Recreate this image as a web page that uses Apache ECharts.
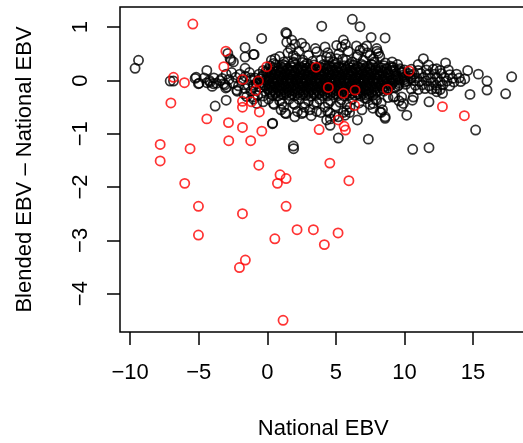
<!DOCTYPE html>
<html><head><meta charset="utf-8">
<script src="https://cdn.jsdelivr.net/npm/echarts@6/dist/echarts.min.js"></script>
<style>html,body{margin:0;padding:0;background:#fff}#c{width:523px;height:443px}</style>
</head><body><div id="c"></div>
<script>
const xTicks = [-10, -5, 0, 5, 10, 15];
const yTicks = [-4, -3, -2, -1, 0, 1];
const xTitle = 'National EBV';
const yTitle = 'Blended EBV \u2013 National EBV';

const blackOutliers = [
[-9.64,0.23],[-9.39,0.38],[-7.08,-0.01],[-6.84,-0.01],
[17.82,0.07],[17.38,-0.25],[16.02,-0.01],[16.02,-0.18],[15.39,0.12],[14.78,-0.26],[15.19,-0.93],[14.61,0.19],
[11.79,-1.26],[10.6,-1.29],[7.37,-1.10],[5.18,-1.08],[1.9,-1.23],[1.92,-1.28],[0.37,-0.81],[-3.8,-0.48],[-3.0,-0.37],
[6.2,1.15],[6.76,1.01],[3.97,1.02],[-0.41,0.79],[1.35,0.90],[8.59,0.80],[7.57,0.81],
[-1.62,0.62],[-1.62,0.44],[-1.01,0.49],[-2.88,0.51],[-2.64,0.38],[-4.41,0.19],[-5.26,0.04],[-4.97,-0.05],[-4.17,-0.03],[-4.02,-0.11],[-3.44,0.0],[-3.03,-0.14],[-1.62,0.23],
[8.59,-0.71],[8.3,-0.6],[10.17,-0.65],[9.8,-0.48],[10.58,-0.37],[11.79,-0.40],[11.38,0.41],[11.0,0.3],[13.0,0.33],[6.57,-0.74],[4.58,-0.84],[1.37,-0.62],[2.51,-0.62],[3.2,-0.66],[4.6,-0.72],
[1.42,0.88],[1.42,0.72],[1.78,0.76],[2.75,0.63],[3.6,0.54],[4.21,0.63],[5.06,0.66],[5.55,0.76],[-0.96,0.49],[0.57,0.41],[1.9,0.47],[4.32,0.44],[5.06,0.41],[0.45,0.32],[1.15,0.3],[1.9,0.35],[2.55,0.34],[4.58,0.26],[5.79,0.38],
[5.43,0.63],[7.25,0.65],[7.98,0.6],[8.1,0.51],[6.76,0.57],[6.52,0.44],[7.49,0.47],[7.74,0.41],[11.75,0.29],[9.19,0.25],[9.68,0.22],[12.35,0.22],
[0.45,-0.43],[1.06,-0.43],[1.9,-0.43],[2.75,-0.43],[3.6,-0.41],[4.45,-0.43],[5.3,-0.41],[1.3,-0.61],[2.63,-0.6],[3.6,-0.58],[4.58,-0.61],[5.55,-0.6],[4.33,-0.74],[5.18,-0.68],[0.39,-0.8],[-1.01,-0.31],[-0.28,-0.29],[-0.77,-0.43],
[9.8,-0.31],[9.92,-0.43],[10.65,-0.31],[8.59,-0.68],[8.22,-0.59],[7.73,-0.43],[7.98,-0.37],[9.19,-0.31],[7.25,-0.34],[5.79,-0.56],[6.03,-0.5],[5.67,-0.65],[12.35,-0.21],[12.78,-0.24],[12.35,-0.15],
[-5.19,0.06],[-5.02,-0.06],[-4.22,0.0],[-3.93,-0.06],[-3.2,-0.06],[-2.71,0.41],[-2.47,0.35],[-2.95,-0.12],[-2.22,-0.18],[-1.62,-0.15],[-1.01,-0.09]
];

const blackLeftBand = [
[-4.6,0.05],[-4.4,-0.04],[-3.9,0.05],[-3.7,-0.05],[-3.3,0.04],[-3.1,-0.08],[-2.8,0.02],[-2.5,-0.05],[-2.3,0.06],[-2.1,-0.1],[-1.9,0.0],[-1.6,0.08],[-1.4,-0.08],[-1.2,0.05],[-1.0,-0.12],[-2.6,0.15],[-2.0,0.12],[-1.3,0.15],[-3.0,0.12],[-2.2,-0.2],[-1.7,-0.25],[-1.2,-0.2]
];

const blackUpper = [
[0.3,0.38],[0.9,0.45],[1.5,0.52],[1.7,0.6],[2.1,0.42],[2.3,0.55],[2.6,0.38],[3.0,0.47],[3.3,0.36],[3.5,0.6],[3.9,0.38],[4.4,0.52],[4.8,0.35],[5.2,0.5],[5.5,0.4],[5.9,0.55],[6.2,0.35],[6.6,0.48],[7.0,0.38],[7.3,0.52],[7.8,0.35],[8.2,0.45],[8.6,0.33],[9.1,0.35],[9.5,0.3],[1.2,0.35],[1.9,0.33],[2.9,0.32],[4.1,0.3],[5.0,0.32],[6.0,0.3],[6.9,0.3],[7.6,0.3],[8.0,0.55],[4.6,0.44],[2.0,0.68],[2.5,0.7],[5.7,0.68],[6.5,0.65],[7.0,0.6]
];

const blackLower = [
[-1.5,-0.3],[-1.0,-0.35],[-0.7,-0.28],[-0.3,-0.4],[0.1,-0.35],[0.5,-0.45],[0.9,-0.38],[1.2,-0.5],[1.6,-0.35],[2.0,-0.45],[2.3,-0.35],[2.7,-0.5],[3.0,-0.38],[3.4,-0.45],[3.8,-0.35],[4.2,-0.5],[4.6,-0.38],[5.0,-0.48],[5.4,-0.36],[5.8,-0.45],[6.2,-0.35],[6.7,-0.42],[7.1,-0.33],[7.5,-0.45],[7.9,-0.35],[8.3,-0.42],[8.8,-0.32],[9.3,-0.3],[9.6,-0.38],[1.0,-0.55],[2.2,-0.58],[3.1,-0.55],[3.9,-0.6],[4.4,-0.58],[6.0,-0.6],[6.9,-0.55],[7.7,-0.52],[8.4,-0.55],[2.0,-0.68],[4.9,-0.66]
];

const blackCore = [
[0.2,0.27],[0.6,0.29],[1.0,0.26],[1.3,0.28],[1.7,0.27],[2.0,0.29],[2.4,0.26],[2.7,0.28],[3.1,0.27],[3.4,0.29],[3.8,0.26],[4.2,0.28],[4.5,0.27],[4.9,0.29],[5.2,0.26],[5.6,0.28],[5.9,0.27],[6.3,0.29],[6.6,0.26],[7.0,0.28],[7.3,0.27],[7.7,0.29],[8.1,0.26],[8.5,0.28],[9.0,0.27],
[-0.3,0.19],[0.1,0.21],[0.4,0.2],[0.8,0.19],[1.1,0.21],[1.5,0.2],[1.8,0.19],[2.2,0.21],[2.5,0.2],[2.9,0.19],[3.2,0.21],[3.6,0.2],[3.9,0.19],[4.3,0.21],[4.7,0.2],[5.0,0.19],[5.4,0.21],[5.7,0.2],[6.1,0.19],[6.4,0.21],[6.8,0.2],[7.1,0.19],[7.5,0.21],[7.9,0.2],[8.3,0.19],[8.7,0.21],[9.2,0.2],[9.6,0.19],
[-0.6,0.12],[0.0,0.14],[0.3,0.13],[0.6,0.12],[1.0,0.14],[1.3,0.13],[1.7,0.12],[2.0,0.14],[2.4,0.13],[2.7,0.12],[3.1,0.14],[3.4,0.13],[3.8,0.12],[4.1,0.14],[4.5,0.13],[4.8,0.12],[5.2,0.14],[5.5,0.13],[5.9,0.12],[6.2,0.14],[6.6,0.13],[6.9,0.12],[7.3,0.14],[7.6,0.13],[8.0,0.12],[8.4,0.14],[8.8,0.13],[9.3,0.12],[9.8,0.14],[10.3,0.13],
[-0.9,0.05],[-0.4,0.07],[0.2,0.06],[0.5,0.05],[0.9,0.07],[1.2,0.06],[1.6,0.05],[1.9,0.07],[2.3,0.06],[2.6,0.05],[3.0,0.07],[3.3,0.06],[3.7,0.05],[4.0,0.07],[4.4,0.06],[4.7,0.05],[5.1,0.07],[5.4,0.06],[5.8,0.05],[6.1,0.07],[6.5,0.06],[6.8,0.05],[7.2,0.07],[7.5,0.06],[7.9,0.05],[8.2,0.07],[8.6,0.06],[9.0,0.05],[9.5,0.07],[10.0,0.06],[10.5,0.05],
[-1.2,0.01],[-0.7,-0.01],[-0.2,0.0],[0.1,0.01],[0.4,-0.01],[0.8,0.0],[1.1,0.01],[1.5,-0.01],[1.8,0.0],[2.2,0.01],[2.5,-0.01],[2.9,0.0],[3.2,0.01],[3.6,-0.01],[3.9,0.0],[4.3,0.01],[4.6,-0.01],[5.0,0.0],[5.3,0.01],[5.7,-0.01],[6.0,0.0],[6.4,0.01],[6.7,-0.01],[7.1,0.0],[7.4,0.01],[7.8,-0.01],[8.1,0.0],[8.5,0.01],[8.9,-0.01],[9.3,0.0],[9.7,0.01],[10.2,-0.01],[10.7,0.0],
[-0.8,-0.06],[-0.3,-0.08],[0.2,-0.07],[0.5,-0.06],[0.9,-0.08],[1.2,-0.07],[1.6,-0.06],[1.9,-0.08],[2.3,-0.07],[2.6,-0.06],[3.0,-0.08],[3.3,-0.07],[3.7,-0.06],[4.0,-0.08],[4.4,-0.07],[4.7,-0.06],[5.1,-0.08],[5.4,-0.07],[5.8,-0.06],[6.1,-0.08],[6.5,-0.07],[6.8,-0.06],[7.2,-0.08],[7.5,-0.07],[7.9,-0.06],[8.3,-0.08],[8.7,-0.07],[9.1,-0.06],[9.6,-0.08],[10.1,-0.07],
[-0.5,-0.13],[0.0,-0.15],[0.3,-0.14],[0.7,-0.13],[1.0,-0.15],[1.4,-0.14],[1.7,-0.13],[2.1,-0.15],[2.4,-0.14],[2.8,-0.13],[3.1,-0.15],[3.5,-0.14],[3.8,-0.13],[4.2,-0.15],[4.5,-0.14],[4.9,-0.13],[5.2,-0.15],[5.6,-0.14],[5.9,-0.13],[6.3,-0.15],[6.6,-0.14],[7.0,-0.13],[7.3,-0.15],[7.7,-0.14],[8.0,-0.13],[8.4,-0.15],[8.8,-0.14],[9.3,-0.13],
[-0.2,-0.2],[0.2,-0.22],[0.6,-0.21],[0.9,-0.2],[1.3,-0.22],[1.6,-0.21],[2.0,-0.2],[2.3,-0.22],[2.7,-0.21],[3.0,-0.2],[3.4,-0.22],[3.7,-0.21],[4.1,-0.2],[4.4,-0.22],[4.8,-0.21],[5.1,-0.2],[5.5,-0.22],[5.8,-0.21],[6.2,-0.2],[6.5,-0.22],[6.9,-0.21],[7.2,-0.2],[7.6,-0.22],[8.0,-0.21],[8.5,-0.2],
[0.4,-0.28],[0.8,-0.29],[1.2,-0.27],[1.6,-0.28],[2.0,-0.29],[2.4,-0.27],[2.8,-0.28],[3.2,-0.29],[3.6,-0.27],[4.0,-0.28],[4.4,-0.29],[4.8,-0.27],[5.2,-0.28],[5.6,-0.29],[6.0,-0.27],[6.4,-0.28],[6.8,-0.29],[7.2,-0.27],[7.7,-0.28]
];

const blackCoreInner = [
[0.4,0.24],[0.8,0.23],[1.15,0.24],[1.5,0.23],[1.85,0.24],[2.2,0.23],[2.55,0.24],[2.9,0.23],[3.25,0.24],[3.6,0.23],[4.0,0.24],[4.35,0.23],[4.7,0.24],[5.05,0.23],[5.4,0.24],[5.75,0.23],[6.1,0.24],[6.45,0.23],[6.8,0.24],[7.15,0.23],[7.5,0.24],[7.9,0.23],[8.3,0.24],[8.7,0.23],[9.1,0.24],
[-0.1,0.17],[0.25,0.16],[0.6,0.17],[0.95,0.16],[1.3,0.17],[1.65,0.16],[2.0,0.17],[2.35,0.16],[2.7,0.17],[3.05,0.16],[3.4,0.17],[3.75,0.16],[4.1,0.17],[4.45,0.16],[4.8,0.17],[5.15,0.16],[5.5,0.17],[5.85,0.16],[6.2,0.17],[6.55,0.16],[6.9,0.17],[7.25,0.16],[7.6,0.17],[8.0,0.16],[8.4,0.17],[8.8,0.16],[9.3,0.17],[9.8,0.16],
[-0.3,0.1],[0.1,0.09],[0.45,0.1],[0.8,0.09],[1.15,0.1],[1.5,0.09],[1.85,0.1],[2.2,0.09],[2.55,0.1],[2.9,0.09],[3.25,0.1],[3.6,0.09],[3.95,0.1],[4.3,0.09],[4.65,0.1],[5.0,0.09],[5.35,0.1],[5.7,0.09],[6.05,0.1],[6.4,0.09],[6.75,0.1],[7.1,0.09],[7.45,0.1],[7.8,0.09],[8.15,0.1],[8.5,0.09],[8.9,0.1],[9.4,0.09],[9.9,0.1],[10.4,0.09],
[-0.5,0.03],[0.0,0.02],[0.35,0.03],[0.7,0.02],[1.05,0.03],[1.4,0.02],[1.75,0.03],[2.1,0.02],[2.45,0.03],[2.8,0.02],[3.15,0.03],[3.5,0.02],[3.85,0.03],[4.2,0.02],[4.55,0.03],[4.9,0.02],[5.25,0.03],[5.6,0.02],[5.95,0.03],[6.3,0.02],[6.65,0.03],[7.0,0.02],[7.35,0.03],[7.7,0.02],[8.05,0.03],[8.4,0.02],[8.75,0.03],[9.15,0.02],[9.55,0.03],[10.0,0.02],[10.45,0.03],
[-0.45,-0.04],[0.05,-0.03],[0.4,-0.04],[0.75,-0.03],[1.1,-0.04],[1.45,-0.03],[1.8,-0.04],[2.15,-0.03],[2.5,-0.04],[2.85,-0.03],[3.2,-0.04],[3.55,-0.03],[3.9,-0.04],[4.25,-0.03],[4.6,-0.04],[4.95,-0.03],[5.3,-0.04],[5.65,-0.03],[6.0,-0.04],[6.35,-0.03],[6.7,-0.04],[7.05,-0.03],[7.4,-0.04],[7.75,-0.03],[8.1,-0.04],[8.45,-0.03],[8.8,-0.04],[9.2,-0.03],[9.6,-0.04],[10.0,-0.03],
[-0.2,-0.1],[0.15,-0.11],[0.5,-0.1],[0.85,-0.11],[1.2,-0.1],[1.55,-0.11],[1.9,-0.1],[2.25,-0.11],[2.6,-0.1],[2.95,-0.11],[3.3,-0.1],[3.65,-0.11],[4.0,-0.1],[4.35,-0.11],[4.7,-0.1],[5.05,-0.11],[5.4,-0.1],[5.75,-0.11],[6.1,-0.1],[6.45,-0.11],[6.8,-0.1],[7.15,-0.11],[7.5,-0.1],[7.85,-0.11],[8.2,-0.1],[8.6,-0.11],[9.0,-0.1],[9.5,-0.11],
[0.1,-0.17],[0.45,-0.18],[0.8,-0.17],[1.15,-0.18],[1.5,-0.17],[1.85,-0.18],[2.2,-0.17],[2.55,-0.18],[2.9,-0.17],[3.25,-0.18],[3.6,-0.17],[3.95,-0.18],[4.3,-0.17],[4.65,-0.18],[5.0,-0.17],[5.35,-0.18],[5.7,-0.17],[6.05,-0.18],[6.4,-0.17],[6.75,-0.18],[7.1,-0.17],[7.45,-0.18],[7.8,-0.17],[8.2,-0.18],[8.7,-0.17],
[0.2,-0.25],[0.6,-0.24],[1.0,-0.25],[1.4,-0.24],[1.8,-0.25],[2.2,-0.24],[2.6,-0.25],[3.0,-0.24],[3.4,-0.25],[3.8,-0.24],[4.2,-0.25],[4.6,-0.24],[5.0,-0.25],[5.4,-0.24],[5.8,-0.25],[6.2,-0.24],[6.6,-0.25],[7.0,-0.24],[7.4,-0.25],[7.9,-0.24]
];

const blackRightBand = [
[10.0,0.2],[10.5,0.21],[11.0,0.19],[11.6,0.2],[12.1,0.21],[12.6,0.19],[13.2,0.2],
[10.7,0.12],[11.2,0.13],[11.7,0.11],[12.2,0.12],[12.7,0.13],[13.3,0.11],[13.8,0.12],
[10.9,0.05],[11.4,0.06],[11.9,0.04],[12.4,0.05],[12.9,0.06],[13.5,0.04],[14.0,0.05],[14.4,0.03],
[11.1,-0.02],[11.6,-0.01],[12.1,-0.03],[12.6,-0.02],[13.1,-0.01],[13.6,-0.03],[14.1,-0.02],
[10.8,-0.09],[11.3,-0.08],[11.8,-0.1],[12.3,-0.09],[12.8,-0.08],[13.3,-0.1],
[10.5,-0.16],[11.0,-0.17],[11.5,-0.15],[12.0,-0.16],[12.6,-0.17]
];

const redPoints = [
[-5.43,1.06],[-3.02,0.55],[-3.17,0.26],[-6.84,0.06],[-6.04,-0.04],[-7.03,-0.42],[-0.04,0.26],[3.56,0.25],[-0.65,-0.01],[-1.79,0.02],[-0.85,-0.19],[-1.81,-0.39],[-1.81,-0.50],[-1.16,-0.40],[-0.58,-0.59],[-4.41,-0.72],[-2.83,-0.79],[-1.81,-0.88],[-0.40,-0.95],[-2.81,-1.13],[-1.21,-1.13],[-7.81,-1.20],[-5.63,-1.28],[-7.81,-1.51],[-0.62,-1.59],[4.56,-1.55],[-6.02,-1.93],[0.93,-1.77],[0.74,-1.93],[1.37,-1.84],[5.95,-1.88],[-5.02,-2.36],[1.37,-2.36],[-1.81,-2.50],[-5.02,-2.90],[0.55,-2.97],[2.17,-2.80],[3.36,-2.80],[5.16,-2.86],[4.16,-3.08],[-1.60,-3.37],[-2.03,-3.51],[1.15,-4.50],[3.78,-0.92],[5.60,-0.86],[5.7,-0.93],[6.37,-0.47],[8.75,-0.17],[12.77,-0.49],[14.37,-0.66],[10.34,0.18],[4.45,-0.13],[5.55,-0.24],[6.4,-0.18],[5.18,-0.74]
];

const blackPoints = [].concat(blackOutliers, blackLeftBand, blackUpper, blackLower, blackCore, blackCoreInner, blackRightBand);

const FONT = '"Liberation Sans", Arial, Helvetica, sans-serif';
const fmt = v => String(v).replace('-', '\u2212');
const chart = echarts.init(document.getElementById('c'), null, {renderer: 'canvas'});
const circleStyle = c => ({color: 'rgba(0,0,0,0)', borderColor: c, borderWidth: 1.75});
chart.setOption({
  animation: false,
  grid: {left: 120, top: 7, width: 406.5, height: 325, show: true, borderColor: '#000', borderWidth: 1.5, backgroundColor: 'rgba(0,0,0,0)', containLabel: false, outerBoundsMode: 'none'},
  xAxis: {
    type: 'value', min: -10.74, max: 18.9,
    splitLine: {show: false}, axisLine: {show: false, onZero: false},
    axisTick: {show: true, customValues: xTicks, length: 13, lineStyle: {color: '#000', width: 1.5}},
    axisLabel: {customValues: xTicks, formatter: fmt, fontSize: 22, color: '#000', fontFamily: FONT, margin: 30}
  },
  yAxis: {
    type: 'value', min: -4.72, max: 1.38,
    splitLine: {show: false}, axisLine: {show: false, onZero: false},
    axisTick: {show: true, customValues: yTicks, length: 13, lineStyle: {color: '#000', width: 1.5}},
    axisLabel: {customValues: yTicks, formatter: fmt, rotate: 90, fontSize: 22, color: '#000', fontFamily: FONT, margin: 28}
  },
  series: [
    {type: 'scatter', data: blackPoints, symbol: 'circle', symbolSize: 9.2, itemStyle: circleStyle('#000'), silent: true, emphasis: {disabled: true}},
    {type: 'scatter', data: redPoints, symbol: 'circle', symbolSize: 9.2, itemStyle: circleStyle('#ff0000'), silent: true, emphasis: {disabled: true}}
  ],
  graphic: [
    {type: 'text', x: 323.3, y: 428.7, style: {text: xTitle, fontSize: 22, fontFamily: FONT, fill: '#000', align: 'center', verticalAlign: 'middle', textAlign: 'center', textVerticalAlign: 'middle'}},
    {type: 'text', x: 25.4, y: 169.5, rotation: Math.PI / 2, style: {text: yTitle, fontSize: 22, fontFamily: FONT, fill: '#000', align: 'center', verticalAlign: 'middle', textAlign: 'center', textVerticalAlign: 'middle'}}
  ]
});
</script>
</body></html>
